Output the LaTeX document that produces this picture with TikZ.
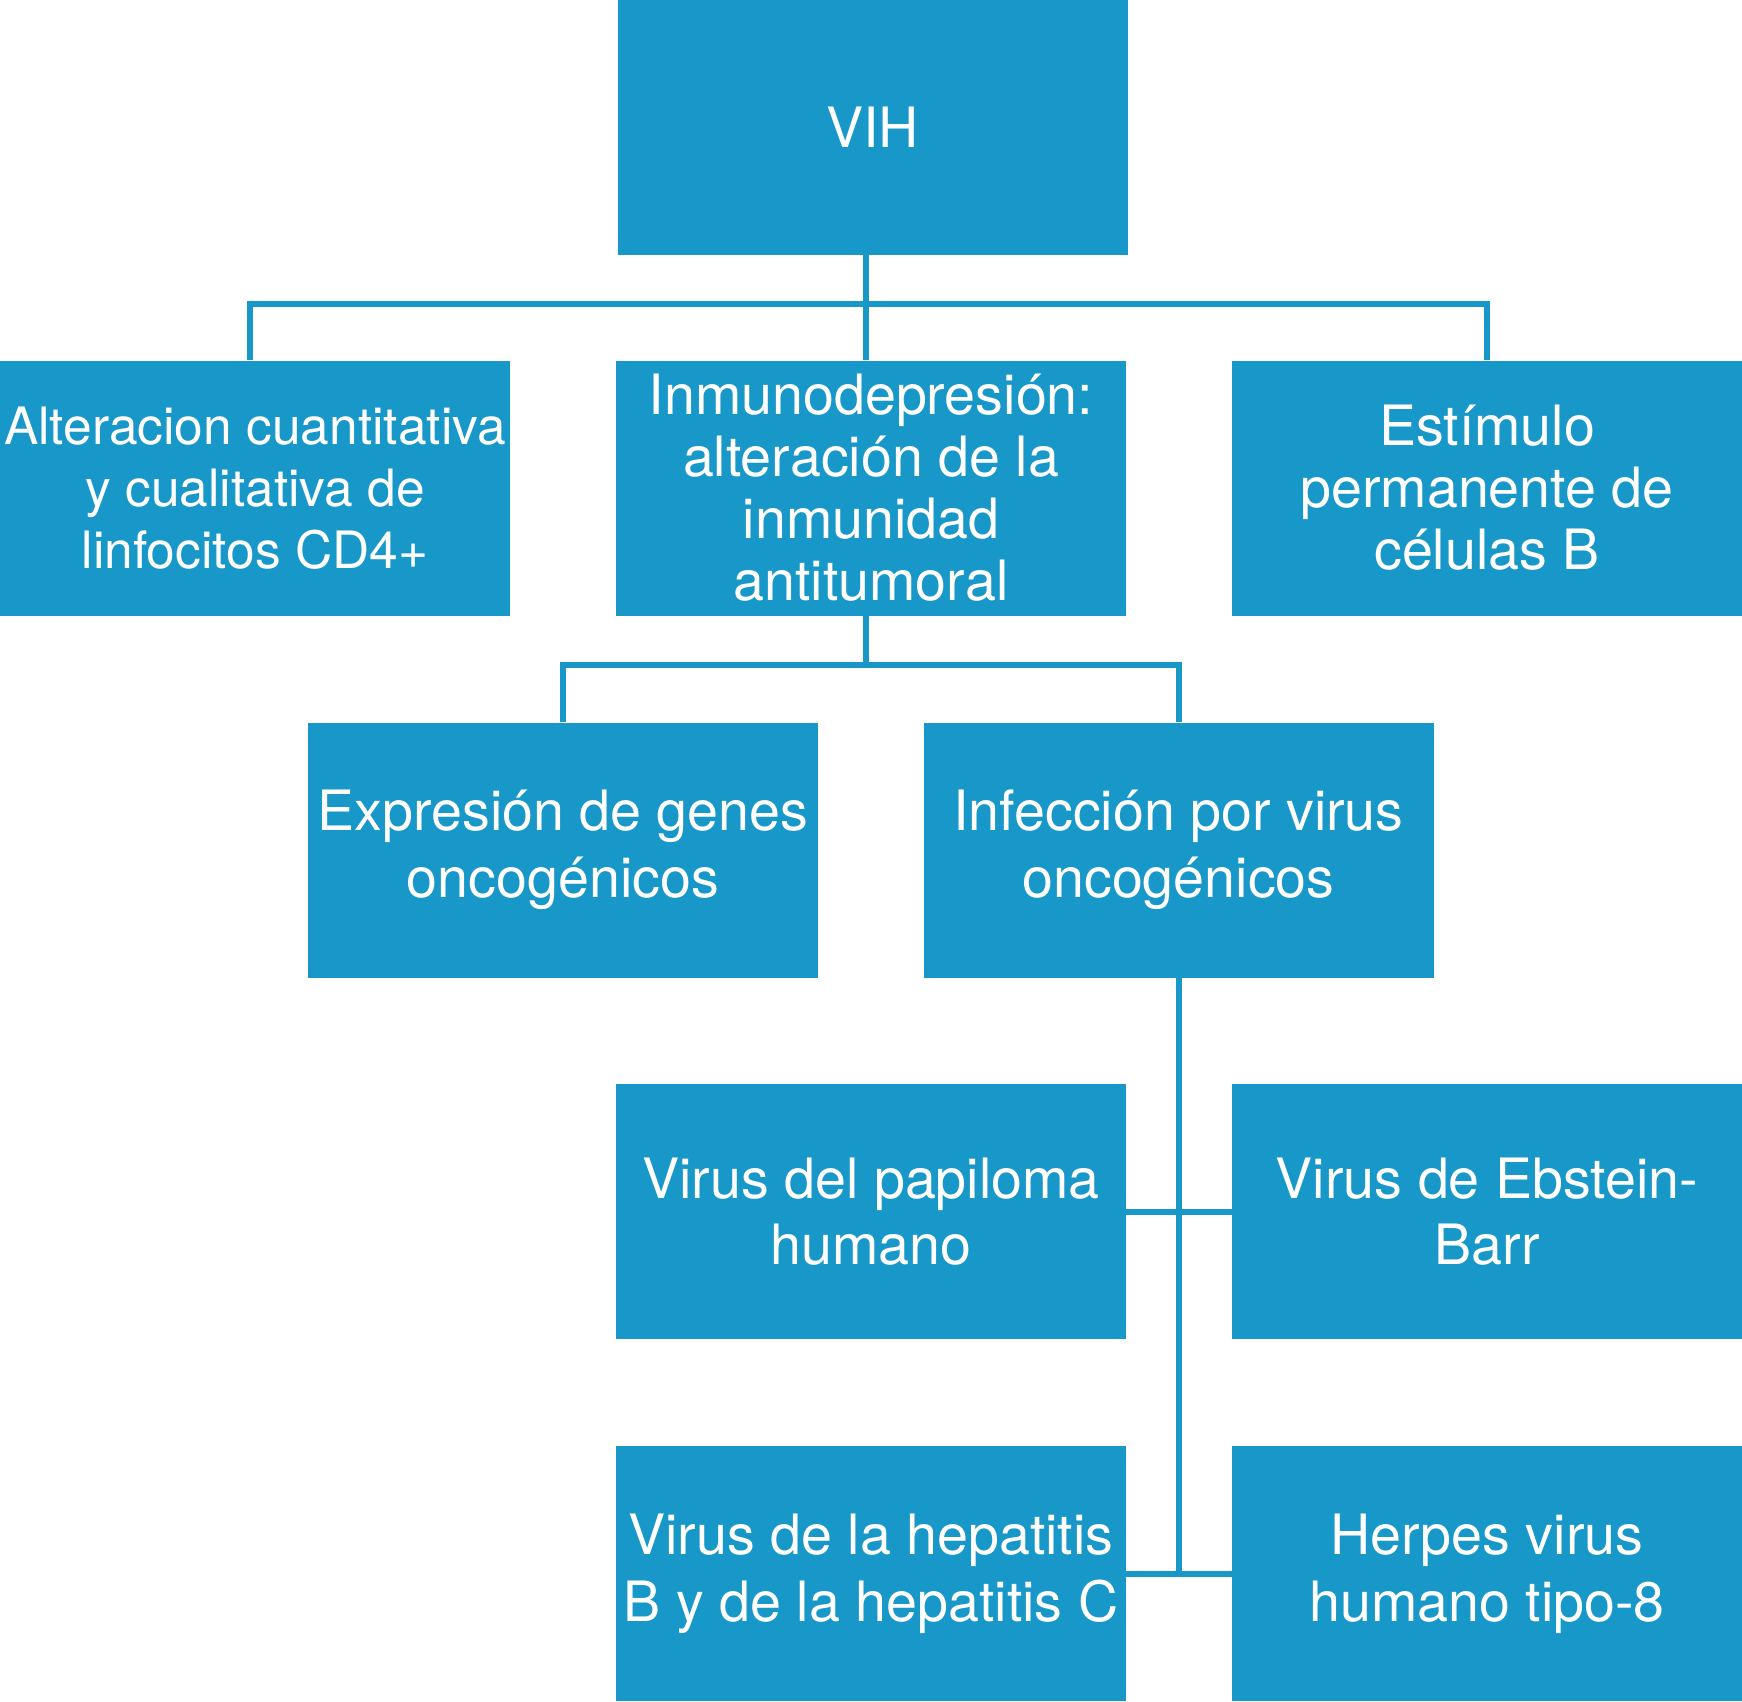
\documentclass[tikz,border=0pt]{standalone}
\usepackage{fontspec}
\setmainfont{TeX Gyre Heros}
\definecolor{boxblue}{RGB}{24,151,201}
\tikzset{
  box/.style={fill=boxblue, text=white, inner sep=0pt, minimum width=510pt, minimum height=255pt,
    align=center, font=\fontsize{55.6}{66.7}\selectfont},
  tightbox/.style={box, font=\fontsize{55.6}{62}\selectfont},
  smallbox/.style={box, font=\fontsize{51.5}{62}\selectfont},
  conn/.style={draw=boxblue, line width=6pt}
}
\begin{document}
\begin{tikzpicture}[x=1pt,y=-1pt]
\useasboundingbox (0,0) rectangle (1742,1701);
\node[box] (VIH) at (872.5,127.5) {VIH};
\node[smallbox] (L) at (255,488) {Alteracion cuantitativa\\y cualitativa de\\linfocitos CD4+};
\node[tightbox] (M) at (871,488) {Inmunodepresión:\\alteración de la\\inmunidad\\antitumoral};
\node[tightbox] (R) at (1487,488) {Estímulo\\permanente de\\células B};
\node[box] (Expr) at (563,850) {Expresión de genes\\oncogénicos};
\node[box] (Inf) at (1178.5,850) {Infección por virus\\oncogénicos};
\node[box] (Pap) at (871,1211.5) {Virus del papiloma\\humano};
\node[box] (EB) at (1487,1211.5) {Virus de Ebstein-\\Barr};
\node[box] (Hep) at (871,1573.5) {Virus de la hepatitis\\B y de la hepatitis C};
\node[box] (Herp) at (1487,1573.5) {Herpes virus\\humano tipo-8};
\coordinate (j1) at (866,304);
\coordinate (j2) at (866,664.5);
\draw[conn] (j1 |- VIH.south) -- (j1 |- M.north);
\draw[conn] ([xshift=-5pt]L.north) |- (j1) -| (R.north);
\draw[conn] (j2 |- M.south) -- (j2);
\draw[conn] (Expr.north) |- (j2) -| (Inf.north);
\draw[conn] (Inf.south) -- ([yshift=-3pt]Inf.south |- Hep.east);
\draw[conn] (Pap.east) -- (EB.west);
\draw[conn] (Hep.east) -- (Herp.west);
\end{tikzpicture}
\end{document}
